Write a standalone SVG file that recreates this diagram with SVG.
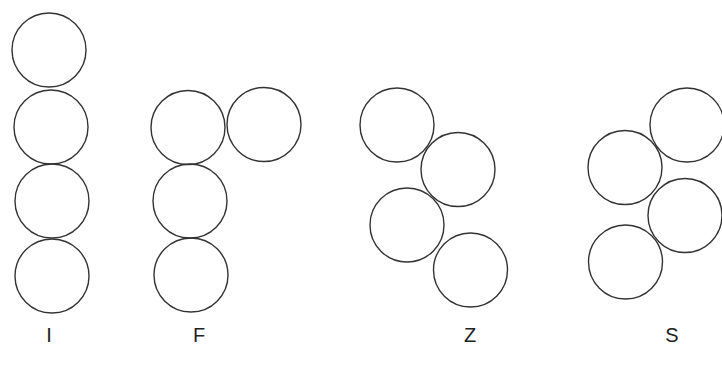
<svg xmlns="http://www.w3.org/2000/svg" width="722" height="367" viewBox="0 0 722 367">
<style>
circle{fill:none;stroke:#333;stroke-width:1.4}
text{font-family:"Liberation Sans",Arial,sans-serif;font-size:20px;fill:#222;text-anchor:middle}
</style>
<rect width="722" height="367" fill="#fff"/>
<g id="I">
<circle cx="49" cy="50" r="37"/>
<circle cx="51" cy="127" r="37"/>
<circle cx="52" cy="201" r="37"/>
<circle cx="52" cy="276" r="37"/>
<text x="49" y="342">I</text>
</g>
<g id="F">
<circle cx="188" cy="127.5" r="37"/>
<circle cx="264" cy="124.5" r="37"/>
<circle cx="190" cy="201" r="37"/>
<circle cx="191" cy="275" r="37"/>
<text x="199" y="342">F</text>
</g>
<g id="Z">
<circle cx="397" cy="125" r="37"/>
<circle cx="458" cy="169.5" r="37"/>
<circle cx="407" cy="225" r="37"/>
<circle cx="470.5" cy="270" r="37"/>
<text x="470" y="342">Z</text>
</g>
<g id="S">
<circle cx="687" cy="125" r="37"/>
<circle cx="625" cy="167.5" r="37"/>
<circle cx="685" cy="215.5" r="37"/>
<circle cx="625.5" cy="262" r="37"/>
<text x="672" y="342">S</text>
</g>
</svg>
